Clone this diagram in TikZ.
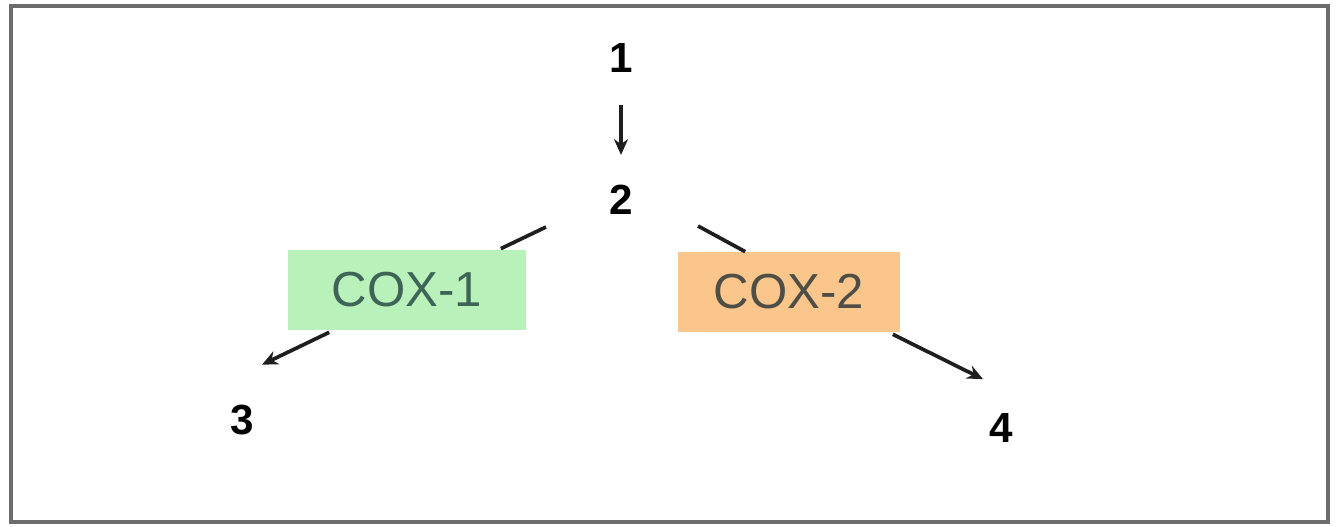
\documentclass[tikz,border=0pt]{standalone}
\usepackage{fontspec}
\setmainfont{Liberation Sans}
\usetikzlibrary{arrows.meta}
\definecolor{boxgreen}{RGB}{184,242,186}
\definecolor{boxorange}{RGB}{250,198,140}
\definecolor{txtgreen}{RGB}{62,100,88}
\definecolor{txtorange}{RGB}{78,78,70}
\definecolor{framegray}{RGB}{108,108,108}
\definecolor{linegray}{RGB}{30,30,30}
\begin{document}
\begin{tikzpicture}[x=0.02cm,y=-0.02cm,>={Stealth[length=9pt,width=8pt]},
    num/.style={inner sep=0pt,font=\fontsize{24}{24}\selectfont\bfseries},
    enzyme/.style={inner sep=0pt,minimum height=1.6cm,font=\fontsize{28}{28}\selectfont},
    link/.style={line width=2.1pt,draw=linegray}]
    \useasboundingbox (0,0) rectangle (1338,527);
    \draw[line width=2.4pt,draw=framegray] (11,6) rectangle (1328,522);
    \node[num] (n1) at (621,58) {1};
    \node[num] (n2) at (621,200) {2};
    \node[num] (n3) at (242,420) {3};
    \node[num] (n4) at (1001,428) {4};
    \node[enzyme,fill=boxgreen,text=txtgreen,minimum width=4.78cm] (cox1) at (407,290) {COX-1};
    \node[enzyme,fill=boxorange,text=txtorange,minimum width=4.46cm] (cox2) at (789,292) {COX-2};
    \begin{scope}[link]
        \draw[->,shorten <=0.64cm,shorten >=0.6cm] (n1) -- (n2);
        \draw ([shift={(-75,27)}]n2.center) -- ([shift={(-26,-1)}]cox1.north east);
        \draw ([shift={(77,26)}]n2.center) -- ([shift={(68,0)}]cox2.north west);
        \draw[->] ([shift={(42,2)}]cox1.south west) -- ([shift={(20,-40)}]n3.north);
        \draw[->] ([shift={(-8,2)}]cox2.south east) -- ([shift={(-18,-34)}]n4.north);
    \end{scope}
\end{tikzpicture}
\end{document}
